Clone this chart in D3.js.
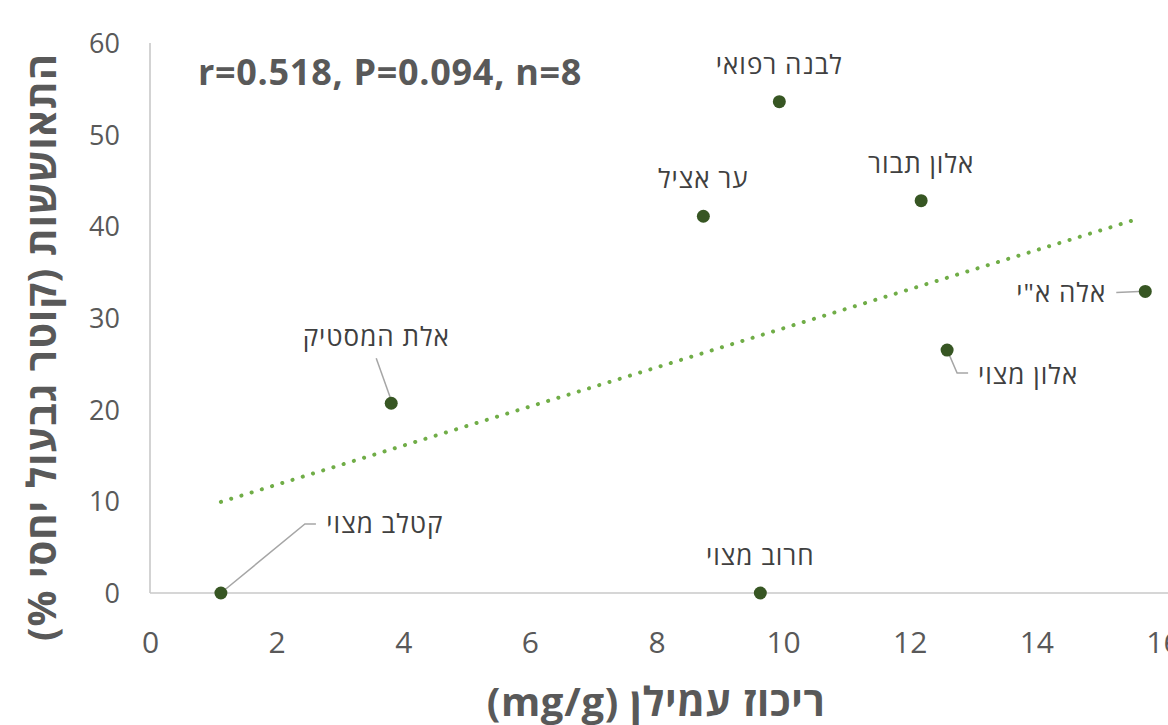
<!DOCTYPE html>
<html>
<head>
<meta charset="utf-8">
<script src="https://cdn.jsdelivr.net/npm/d3@7"></script>
<style>
  html, body { margin: 0; padding: 0; background: #fff; }
  svg { display: block; }
</style>
</head>
<body>
<svg id="chart" width="1168" height="725"></svg>
<script>
// Species names (Hebrew), starch concentration (mg/g) and recovery (% relative stem diameter)
const species  = ["קטלב מצוי", "חרוב מצוי", "אלת המסטיק", "ער אציל", "לבנה רפואי", "אלון תבור", "אלה א\"י", "אלון מצוי"];
const starch   = [1.12, 9.64, 3.81, 8.74, 9.94, 12.18, 15.72, 12.59];
const recovery = [0, 0, 20.7, 41.1, 53.6, 42.8, 32.9, 26.5];

const xTicks = [0, 2, 4, 6, 8, 10, 12, 14, 16];
const yTicks = [0, 10, 20, 30, 40, 50, 60];

const statsText = "r=0.518, P=0.094, n=8";
const xTitle = "ריכוז עמילן (mg/g)";
const yTitle = "התאוששות (קוטר גבעול יחסי %)";

// Label placement relative to each point: text offset (dx, baseline dy) and optional leader path
const labelPlacement = [
  { dx: 164, dy: -60, leader: [[0, 0], [84, -69], [95, -69]] },
  { dx: 0,   dy: -28 },
  { dx: -15, dy: -57, leader: [[0, -3], [-15, -45]] },
  { dx: 0,   dy: -28 },
  { dx: 0,   dy: -28 },
  { dx: 0,   dy: -28 },
  { dx: -84, dy: 11,  leader: [[-6, 0], [-29, 1]] },
  { dx: 81,  dy: 34,  leader: [[1, 2], [10, 23], [21, 23]] }
];

const svg = d3.select("#chart");
const FONT = "'Open Sans', 'Noto Sans', 'DejaVu Sans', sans-serif";

const x = d3.scaleLinear().domain([0, 16]).range([150, 1163]);
const y = d3.scaleLinear().domain([0, 60]).range([593, 43]);

// Axis lines
svg.append("line").attr("x1", x(0)).attr("x2", 1168).attr("y1", y(0)).attr("y2", y(0))
  .attr("stroke", "#c8c8c8").attr("stroke-width", 1.6);
svg.append("line").attr("x1", x(0)).attr("x2", x(0)).attr("y1", y(60)).attr("y2", y(0))
  .attr("stroke", "#c8c8c8").attr("stroke-width", 1.6);

// X axis tick labels
const xAxis = d3.axisBottom(x).tickValues(xTicks).tickSize(0).tickPadding(0).tickFormat(d3.format("d"));
const gx = svg.append("g").attr("transform", `translate(0, ${y(0)})`).call(xAxis);
gx.select(".domain").remove();
gx.selectAll("text")
  .attr("y", 60).attr("dy", null)
  .attr("font-family", FONT).attr("font-size", 30).attr("fill", "#595959");

// Y axis tick labels
const yAxis = d3.axisLeft(y).tickValues(yTicks).tickSize(0).tickPadding(0).tickFormat(d3.format("d"));
const gy = svg.append("g").attr("transform", `translate(${x(0)}, 0)`).call(yAxis);
gy.select(".domain").remove();
gy.selectAll("text")
  .attr("x", -30).attr("dy", "0.35em")
  .attr("font-family", FONT).attr("font-size", 27).attr("fill", "#595959");

// Linear trend line (least squares) over the data range
const n = starch.length;
const mx = d3.mean(starch), my = d3.mean(recovery);
let sxy = 0, sxx = 0;
for (let i = 0; i < n; i++) {
  sxy += (starch[i] - mx) * (recovery[i] - my);
  sxx += (starch[i] - mx) ** 2;
}
const slope = sxy / sxx, intercept = my - slope * mx;
const x0 = d3.min(starch), x1 = d3.max(starch) - 0.08;
svg.append("line")
  .attr("x1", x(x0)).attr("y1", y(intercept + slope * x0))
  .attr("x2", x(x1)).attr("y2", y(intercept + slope * x1))
  .attr("stroke", "#70ad47").attr("stroke-width", 4)
  .attr("stroke-linecap", "round").attr("stroke-dasharray", "0.1 10.6");

// Leader lines
const leaders = svg.append("g");
species.forEach((s, i) => {
  const p = labelPlacement[i];
  if (!p.leader) return;
  const px = x(starch[i]), py = y(recovery[i]);
  leaders.append("path")
    .attr("d", d3.line()(p.leader.map(([a, b]) => [px + a, py + b])))
    .attr("fill", "none").attr("stroke", "#a6a6a6").attr("stroke-width", 1.5);
});

// Points
svg.append("g").selectAll("circle").data(species).join("circle")
  .attr("cx", (d, i) => x(starch[i]))
  .attr("cy", (d, i) => y(recovery[i]))
  .attr("r", 6.5)
  .attr("fill", "#375623");

// Point labels
svg.append("g").selectAll("text").data(species).join("text")
  .attr("x", (d, i) => x(starch[i]) + labelPlacement[i].dx)
  .attr("y", (d, i) => y(recovery[i]) + labelPlacement[i].dy)
  .attr("text-anchor", "middle")
  .attr("direction", "rtl")
  .attr("font-family", FONT).attr("font-size", 26).attr("letter-spacing", 1)
  .attr("fill", "#404040")
  .text(d => d);

// Statistics annotation
svg.append("text")
  .attr("x", 198).attr("y", 85)
  .attr("font-family", FONT).attr("font-size", 36).attr("font-weight", "bold")
  .attr("letter-spacing", 0.7)
  .attr("fill", "#595959")
  .text(statsText);

// Axis titles
svg.append("text")
  .attr("x", 656).attr("y", 716)
  .attr("text-anchor", "middle").attr("direction", "rtl")
  .attr("font-family", FONT).attr("font-size", 40).attr("font-weight", "bold")
  .attr("letter-spacing", 0.7)
  .attr("fill", "#595959")
  .text(xTitle);

svg.append("text")
  .attr("transform", "translate(56, 347) rotate(-90)")
  .attr("text-anchor", "middle").attr("direction", "rtl")
  .attr("font-family", FONT).attr("font-size", 40).attr("font-weight", "bold")
  .attr("letter-spacing", 1)
  .attr("fill", "#595959")
  .text(yTitle);
</script>
</body>
</html>
